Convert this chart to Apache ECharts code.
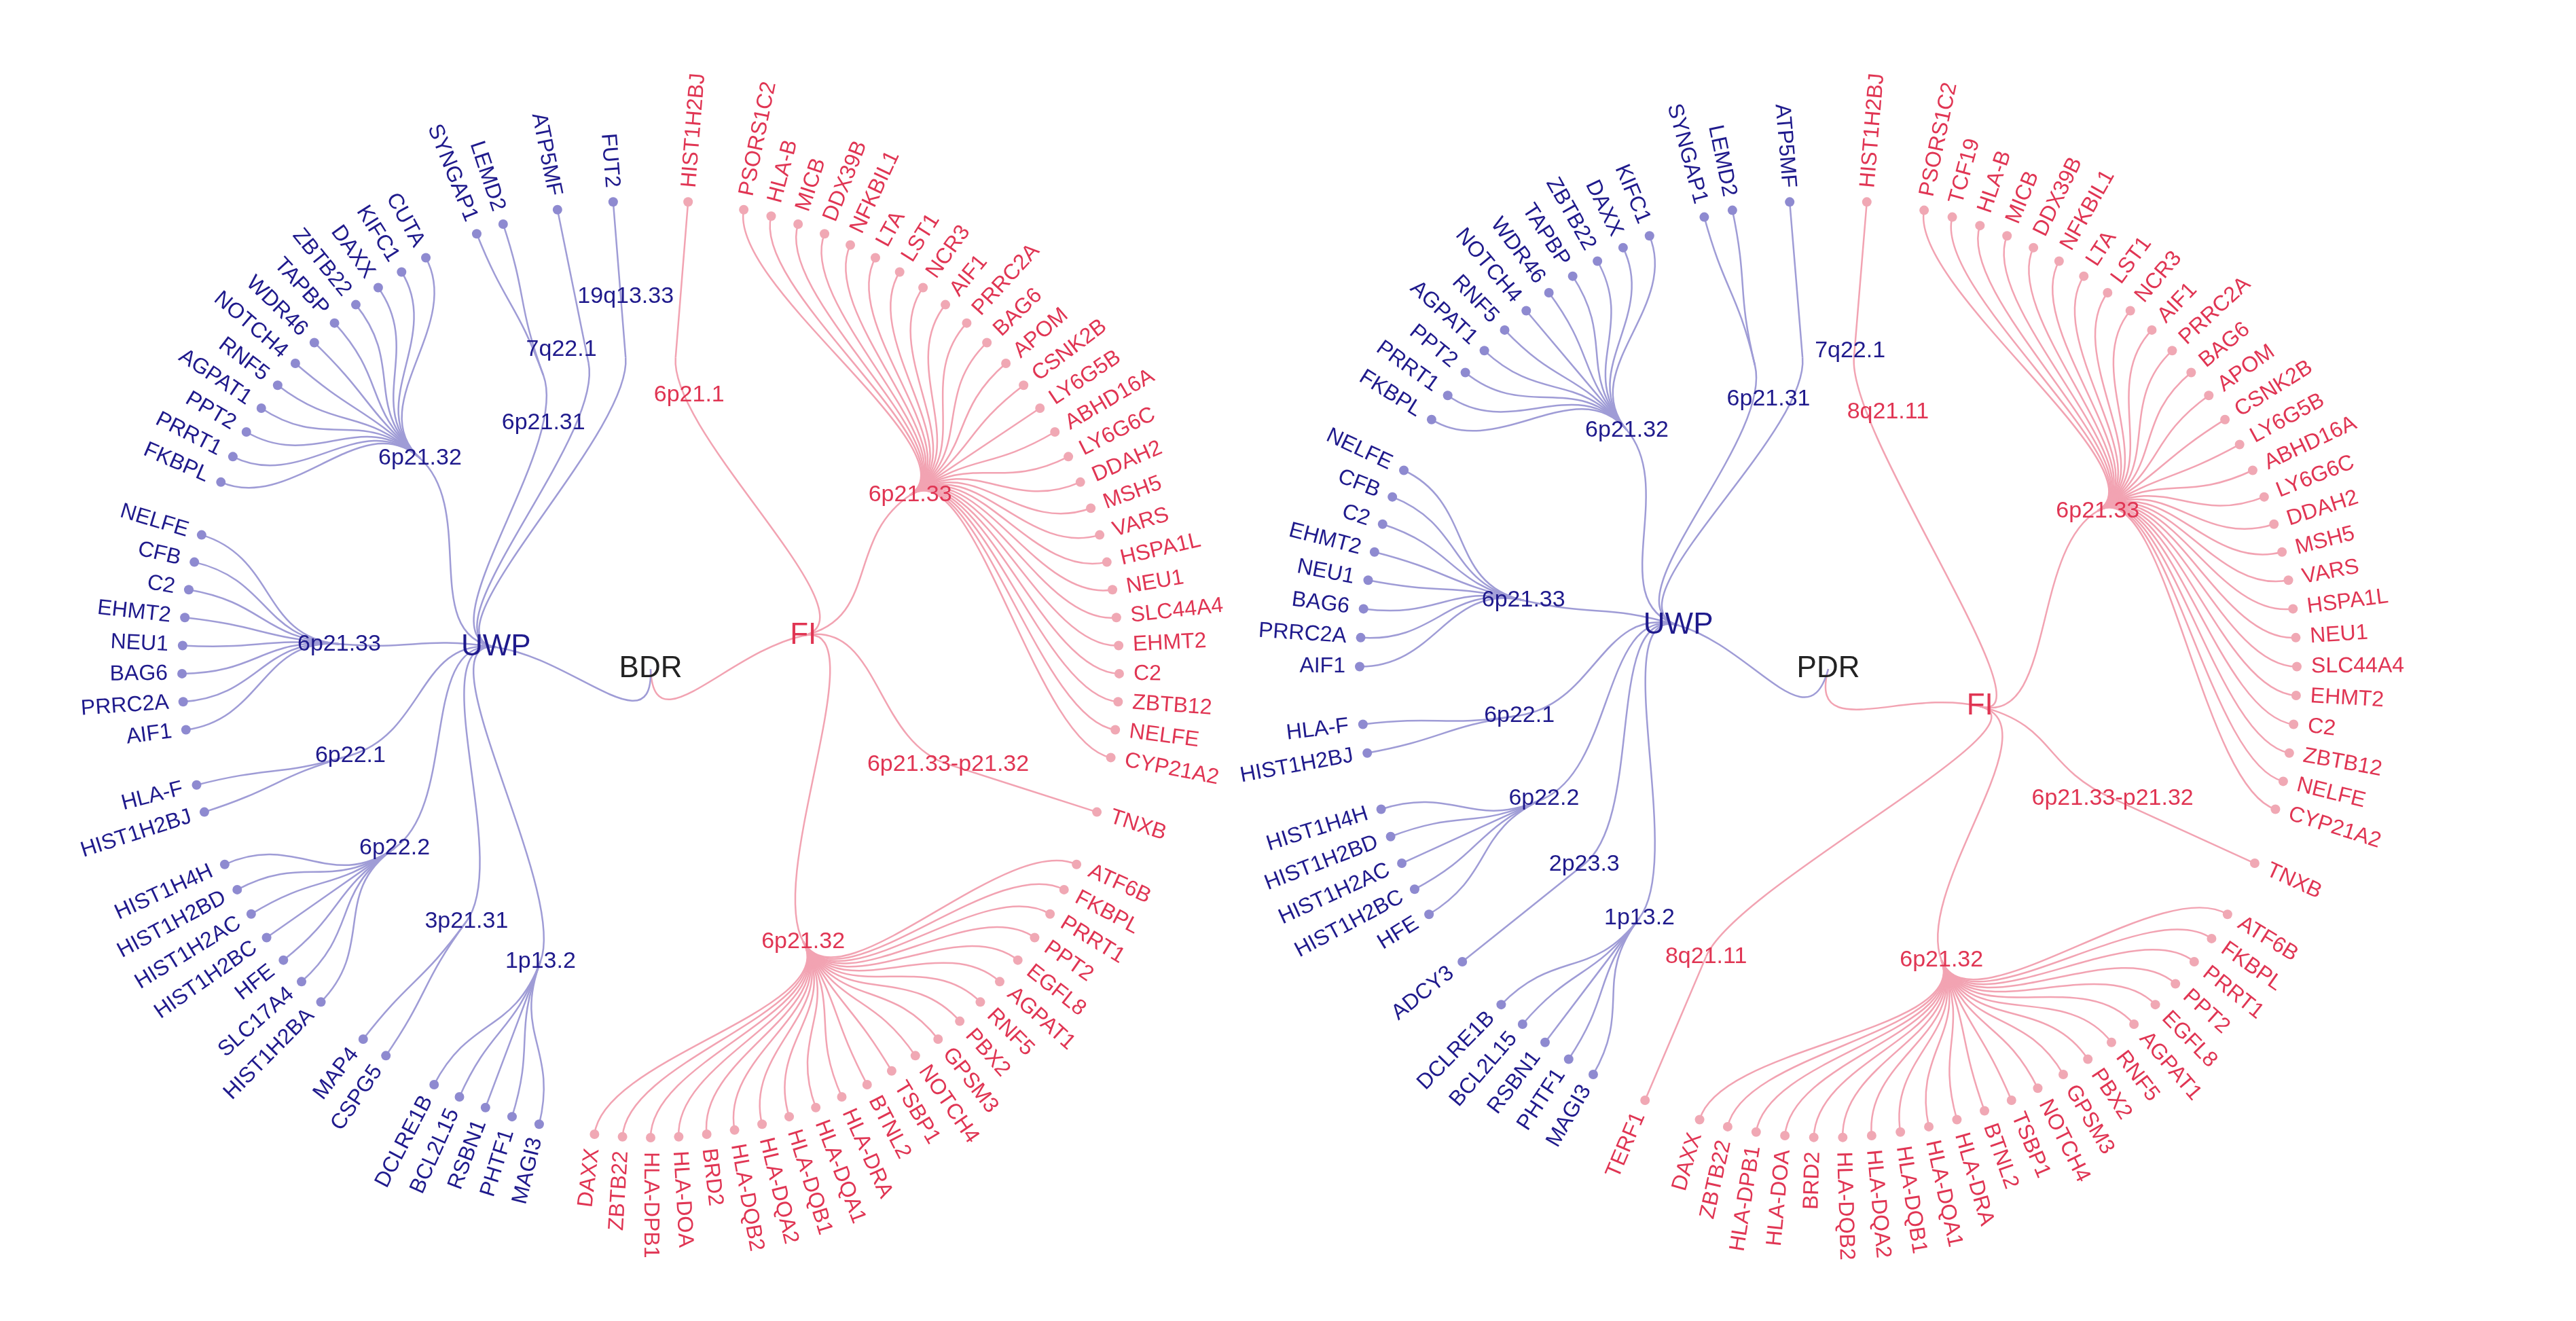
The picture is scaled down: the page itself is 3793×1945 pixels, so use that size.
<!DOCTYPE html>
<html>
<head>
<meta charset="utf-8">
<script src="https://cdn.jsdelivr.net/npm/echarts@6/dist/echarts.min.js"></script>
<style>html,body{margin:0;background:#fff}#c{width:3793px;height:1945px}</style>
</head>
<body>
<div id="c"></div>
<script>
// ---- BDR tree, clockwise from top ----
var bdrFiBands = ['6p21.1', '6p21.33', '6p21.33-p21.32', '6p21.32'];
var bdrFiGenes = [
    ['HIST1H2BJ'],
    ['PSORS1C2', 'HLA-B', 'MICB', 'DDX39B', 'NFKBIL1', 'LTA', 'LST1', 'NCR3', 'AIF1', 'PRRC2A', 'BAG6', 'APOM', 'CSNK2B', 'LY6G5B', 'ABHD16A', 'LY6G6C', 'DDAH2', 'MSH5', 'VARS', 'HSPA1L', 'NEU1', 'SLC44A4', 'EHMT2', 'C2', 'ZBTB12', 'NELFE', 'CYP21A2'],
    ['TNXB'],
    ['ATF6B', 'FKBPL', 'PRRT1', 'PPT2', 'EGFL8', 'AGPAT1', 'RNF5', 'PBX2', 'GPSM3', 'NOTCH4', 'TSBP1', 'BTNL2', 'HLA-DRA', 'HLA-DQA1', 'HLA-DQB1', 'HLA-DQA2', 'HLA-DQB2', 'BRD2', 'HLA-DOA', 'HLA-DPB1', 'ZBTB22', 'DAXX']
];
var bdrUwpBands = ['1p13.2', '3p21.31', '6p22.2', '6p22.1', '6p21.33', '6p21.32', '6p21.31', '7q22.1', '19q13.33'];
var bdrUwpGenes = [
    ['MAGI3', 'PHTF1', 'RSBN1', 'BCL2L15', 'DCLRE1B'],
    ['CSPG5', 'MAP4'],
    ['HIST1H2BA', 'SLC17A4', 'HFE', 'HIST1H2BC', 'HIST1H2AC', 'HIST1H2BD', 'HIST1H4H'],
    ['HIST1H2BJ', 'HLA-F'],
    ['AIF1', 'PRRC2A', 'BAG6', 'NEU1', 'EHMT2', 'C2', 'CFB', 'NELFE'],
    ['FKBPL', 'PRRT1', 'PPT2', 'AGPAT1', 'RNF5', 'NOTCH4', 'WDR46', 'TAPBP', 'ZBTB22', 'DAXX', 'KIFC1', 'CUTA'],
    ['SYNGAP1', 'LEMD2'],
    ['ATP5MF'],
    ['FUT2']
];
// ---- PDR tree ----
var pdrFiBands = ['8q21.11', '6p21.33', '6p21.33-p21.32', '6p21.32', '8q21.11'];
var pdrFiGenes = [
    ['HIST1H2BJ'],
    ['PSORS1C2', 'TCF19', 'HLA-B', 'MICB', 'DDX39B', 'NFKBIL1', 'LTA', 'LST1', 'NCR3', 'AIF1', 'PRRC2A', 'BAG6', 'APOM', 'CSNK2B', 'LY6G5B', 'ABHD16A', 'LY6G6C', 'DDAH2', 'MSH5', 'VARS', 'HSPA1L', 'NEU1', 'SLC44A4', 'EHMT2', 'C2', 'ZBTB12', 'NELFE', 'CYP21A2'],
    ['TNXB'],
    ['ATF6B', 'FKBPL', 'PRRT1', 'PPT2', 'EGFL8', 'AGPAT1', 'RNF5', 'PBX2', 'GPSM3', 'NOTCH4', 'TSBP1', 'BTNL2', 'HLA-DRA', 'HLA-DQA1', 'HLA-DQB1', 'HLA-DQA2', 'HLA-DQB2', 'BRD2', 'HLA-DOA', 'HLA-DPB1', 'ZBTB22', 'DAXX'],
    ['TERF1']
];
var pdrUwpBands = ['1p13.2', '2p23.3', '6p22.2', '6p22.1', '6p21.33', '6p21.32', '6p21.31', '7q22.1'];
var pdrUwpGenes = [
    ['MAGI3', 'PHTF1', 'RSBN1', 'BCL2L15', 'DCLRE1B'],
    ['ADCY3'],
    ['HFE', 'HIST1H2BC', 'HIST1H2AC', 'HIST1H2BD', 'HIST1H4H'],
    ['HIST1H2BJ', 'HLA-F'],
    ['AIF1', 'PRRC2A', 'BAG6', 'NEU1', 'EHMT2', 'C2', 'CFB', 'NELFE'],
    ['FKBPL', 'PRRT1', 'PPT2', 'AGPAT1', 'RNF5', 'NOTCH4', 'WDR46', 'TAPBP', 'ZBTB22', 'DAXX', 'KIFC1'],
    ['SYNGAP1', 'LEMD2'],
    ['ATP5MF']
];

var RED = '#e03553', RED_LINE = '#f2a3b2', RED_DOT = '#f0a8b4';
var BLUE = '#1f1a8c', BLUE_LINE = '#9f9cd6', BLUE_DOT = '#8e8ad0';

// label nudges for crowded band labels (tree:group:index)
var labelNudge = {
    'BDR:UWP:8': [0, -90],
    'BDR:UWP:7': [-40, -20],
    'BDR:UWP:6': [0, 70],
    'BDR:FI:0': [20, 55],
    'PDR:UWP:7': [70, -10],
    'PDR:UWP:6': [20, 50],
    'PDR:FI:0': [50, 80]
};

function group(tree, name, bands, genes, col, line, dot) {
    return {
        name: name,
        label: {color: col, fontSize: 44, rotate: 0, position: 'inside'},
        lineStyle: {color: line},
        children: bands.map(function (b, i) {
            return {
                name: b,
                label: {color: col, fontSize: 34, rotate: 0, position: 'inside',
                    offset: labelNudge[tree + ':' + name + ':' + i] || [0, 0]},
                lineStyle: {color: line},
                children: genes[i].map(function (g) {
                    return {name: g, symbolSize: 14, itemStyle: {color: dot, borderWidth: 0},
                        label: {color: col}, lineStyle: {color: line}};
                })
            };
        })
    };
}

function tree(rootName, fiB, fiG, uwpB, uwpG, cx) {
    var R = 690;
    return {
        type: 'tree',
        layout: 'radial',
        left: cx - R, top: 985 - R, width: 2 * R, height: 2 * R,
        symbol: 'circle',
        symbolSize: 0,
        edgeShape: 'curve',
        expandAndCollapse: false,
        animation: false,
        initialTreeDepth: -1,
        roam: false,
        lineStyle: {width: 2.5, curveness: 0.5},
        label: {fontFamily: 'Liberation Sans', fontSize: 32},
        leaves: {label: {fontFamily: 'Liberation Sans', fontSize: 32, distance: 14}},
        data: [{
            name: rootName,
            label: {color: '#222', fontSize: 44, rotate: 0, position: 'inside'},
            children: [
                group(rootName, 'FI', fiB, fiG, RED, RED_LINE, RED_DOT),
                group(rootName, 'UWP', uwpB, uwpG, BLUE, BLUE_LINE, BLUE_DOT)
            ]
        }]
    };
}

var chart = echarts.init(document.getElementById('c'));
chart.setOption({
    backgroundColor: '#fff',
    series: [
        tree('BDR', bdrFiBands, bdrFiGenes, bdrUwpBands, bdrUwpGenes, 958),
        tree('PDR', pdrFiBands, pdrFiGenes, pdrUwpBands, pdrUwpGenes, 2692)
    ]
});
</script>
</body>
</html>
